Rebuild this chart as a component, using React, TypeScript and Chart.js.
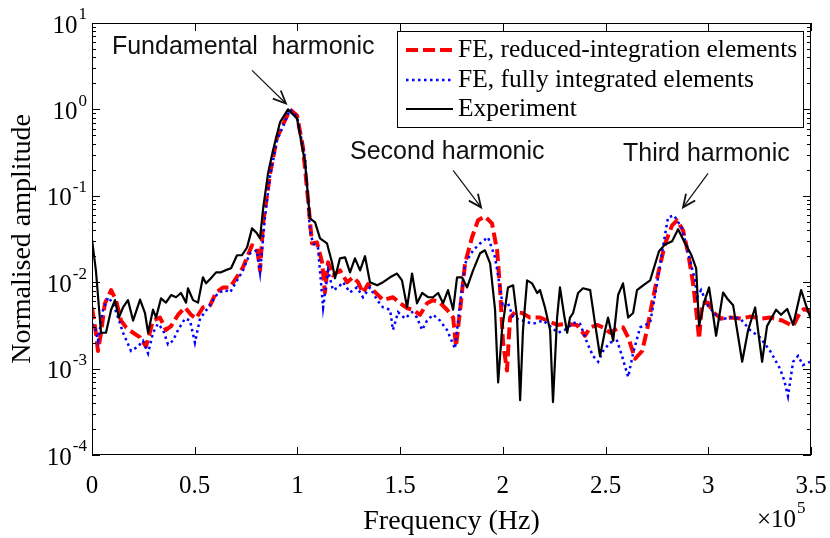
import React, { useEffect, useRef } from "react";
import { Chart, registerables } from "chart.js";

Chart.register(...registerables);

// Frequencies in units of 1e5 Hz
const reducedFreq = [0,0.019,0.029,0.044,0.063,0.093,0.117,0.141,0.166,0.2,0.234,0.263,0.297,0.331,0.36,0.385,0.419,0.453,0.482,0.506,0.54,0.575,0.604,0.638,0.672,0.701,0.735,0.779,0.803,0.818,0.833,0.867,0.901,0.964,0.998,1.027,1.052,1.071,1.095,1.12,1.134,1.149,1.173,1.207,1.242,1.271,1.295,1.319,1.344,1.368,1.417,1.465,1.5,1.534,1.563,1.597,1.631,1.66,1.694,1.728,1.758,1.772,1.792,1.816,1.85,1.879,1.913,1.947,1.972,1.986,2.001,2.02,2.035,2.059,2.093,2.132,2.181,2.215,2.264,2.313,2.361,2.4,2.425,2.459,2.488,2.522,2.556,2.585,2.61,2.644,2.678,2.702,2.726,2.756,2.79,2.824,2.848,2.877,2.902,2.926,2.945,2.955,2.97,2.999,3.023,3.062,3.106,3.165,3.203,3.262,3.301,3.359,3.413,3.447,3.466,3.5];
const reducedAmp = [0.0051,0.0026,0.0016,0.0026,0.0057,0.0081,0.0062,0.0036,0.003,0.0026,0.0023,0.0018,0.0036,0.0039,0.0028,0.0031,0.0042,0.0051,0.0042,0.0038,0.0051,0.0054,0.0076,0.0087,0.0087,0.0111,0.0149,0.0267,0.0253,0.0137,0.048,0.182,0.474,1.0,0.852,0.363,0.0886,0.0281,0.0289,0.017,0.0076,0.017,0.012,0.0137,0.01,0.0114,0.01,0.0075,0.0095,0.0081,0.0062,0.0067,0.0057,0.005,0.0048,0.0042,0.0057,0.0062,0.0058,0.0048,0.0039,0.0018,0.0048,0.0165,0.0331,0.052,0.0577,0.048,0.0234,0.0087,0.002,0.00095,0.0039,0.0045,0.0044,0.0039,0.0039,0.0036,0.0032,0.0033,0.0032,0.0024,0.003,0.0032,0.003,0.0026,0.0029,0.003,0.0023,0.0013,0.0016,0.0028,0.0057,0.0126,0.0281,0.0455,0.052,0.0399,0.0216,0.0097,0.0039,0.0022,0.0057,0.0058,0.0045,0.0038,0.0039,0.0038,0.004,0.0038,0.0039,0.0036,0.0031,0.0045,0.0049,0.0045];

const fullFreq = [0,0.015,0.029,0.054,0.078,0.102,0.127,0.151,0.19,0.224,0.248,0.273,0.297,0.321,0.346,0.37,0.394,0.419,0.453,0.477,0.501,0.526,0.55,0.579,0.613,0.648,0.672,0.701,0.735,0.769,0.803,0.818,0.842,0.867,0.901,0.964,0.998,1.037,1.061,1.076,1.1,1.125,1.149,1.173,1.198,1.222,1.256,1.29,1.319,1.353,1.388,1.417,1.451,1.465,1.49,1.524,1.558,1.582,1.607,1.631,1.66,1.694,1.728,1.767,1.792,1.816,1.855,1.889,1.928,1.962,1.986,2.001,2.025,2.05,2.093,2.147,2.196,2.244,2.269,2.313,2.342,2.376,2.41,2.439,2.464,2.488,2.522,2.556,2.58,2.61,2.634,2.668,2.717,2.751,2.775,2.804,2.833,2.872,2.911,2.936,2.945,2.965,2.999,3.057,3.106,3.155,3.203,3.252,3.301,3.349,3.369,3.388,3.413,3.437,3.461,3.495];
const fullAmp = [0.0033,0.003,0.0021,0.0048,0.0067,0.0057,0.0039,0.0026,0.0016,0.0018,0.0021,0.0015,0.0026,0.0033,0.0028,0.0019,0.0021,0.0028,0.0038,0.0036,0.002,0.0038,0.0045,0.0057,0.0075,0.0081,0.0076,0.01,0.0137,0.0216,0.0234,0.013,0.0561,0.172,0.438,1.0,0.83,0.278,0.0399,0.0281,0.0253,0.0051,0.0137,0.0081,0.0087,0.01,0.0076,0.0087,0.0067,0.0087,0.0062,0.0051,0.0048,0.0028,0.0045,0.0038,0.0045,0.0039,0.0028,0.0036,0.0042,0.0036,0.0028,0.0017,0.0057,0.0165,0.0234,0.0281,0.0331,0.0194,0.0087,0.0051,0.0057,0.0039,0.0036,0.0033,0.0036,0.0029,0.0026,0.0029,0.0034,0.0033,0.002,0.0014,0.0012,0.0016,0.002,0.0021,0.0014,0.0008,0.0015,0.003,0.0034,0.0097,0.0222,0.0561,0.0594,0.042,0.0179,0.0105,0.0067,0.0081,0.0053,0.0037,0.0039,0.0038,0.0028,0.0023,0.0016,0.001,0.00074,0.00048,0.0012,0.0014,0.0011,0.0012];

const expFreq = [0,0.019,0.044,0.068,0.093,0.112,0.131,0.151,0.175,0.2,0.234,0.258,0.273,0.297,0.312,0.336,0.36,0.385,0.409,0.433,0.458,0.467,0.492,0.516,0.54,0.555,0.579,0.604,0.628,0.648,0.677,0.706,0.73,0.755,0.779,0.803,0.818,0.833,0.857,0.881,0.915,0.954,0.998,1.037,1.061,1.086,1.11,1.144,1.168,1.183,1.207,1.232,1.256,1.28,1.305,1.329,1.353,1.388,1.417,1.451,1.485,1.509,1.534,1.558,1.582,1.607,1.636,1.66,1.685,1.709,1.733,1.758,1.777,1.801,1.826,1.855,1.889,1.913,1.938,1.962,1.977,1.996,2.025,2.05,2.069,2.084,2.098,2.118,2.142,2.167,2.181,2.205,2.23,2.244,2.264,2.278,2.298,2.313,2.327,2.342,2.366,2.39,2.425,2.449,2.473,2.498,2.512,2.537,2.561,2.585,2.61,2.634,2.653,2.683,2.717,2.76,2.79,2.824,2.853,2.882,2.916,2.941,2.955,2.979,3.004,3.038,3.072,3.096,3.121,3.165,3.194,3.228,3.262,3.286,3.33,3.354,3.384,3.413,3.452,3.476,3.5];
const expAmp = [0.031,0.0137,0.0026,0.0026,0.0048,0.0062,0.0039,0.0051,0.0062,0.0036,0.0063,0.0044,0.0026,0.0048,0.0039,0.0065,0.0058,0.0071,0.0067,0.0075,0.0058,0.0085,0.0062,0.0058,0.0114,0.0097,0.0111,0.013,0.013,0.0137,0.0145,0.0205,0.0205,0.0253,0.042,0.0368,0.0322,0.0717,0.182,0.335,0.707,1.0,0.787,0.243,0.0548,0.0493,0.0322,0.0281,0.017,0.0111,0.0189,0.0194,0.013,0.0189,0.0137,0.02,0.01,0.0092,0.01,0.0114,0.0126,0.0105,0.0051,0.0126,0.0057,0.0075,0.0067,0.0067,0.0075,0.0057,0.0081,0.0048,0.0114,0.0114,0.0087,0.0137,0.0216,0.0234,0.0165,0.0048,0.00069,0.0028,0.0087,0.0092,0.0039,0.00043,0.0028,0.0105,0.0097,0.0075,0.0081,0.0051,0.0028,0.00041,0.0039,0.0087,0.0042,0.0026,0.0039,0.0044,0.0075,0.0085,0.0081,0.0033,0.0014,0.0028,0.0039,0.0021,0.0071,0.0097,0.0039,0.0044,0.0081,0.0092,0.0105,0.0228,0.0274,0.0297,0.041,0.0297,0.0211,0.0145,0.0031,0.0058,0.0087,0.0024,0.0076,0.0063,0.0054,0.0012,0.0028,0.0051,0.0012,0.0031,0.0048,0.0042,0.0049,0.0032,0.0081,0.0054,0.0037];

const seriesLabels = ["FE, reduced-integration elements", "FE, fully integrated elements", "Experiment"];
const xTickValues = [0, 0.5, 1, 1.5, 2, 2.5, 3, 3.5];
const yDecades = [-4, -3, -2, -1, 0, 1];

// annotation texts and arrows, positioned in data units
const annotationTexts = ["Fundamental  harmonic", "Second harmonic", "Third harmonic"];
const annotationTextX = [0.097, 1.256, 2.585];
const annotationTextY = [5.2, 0.318, 0.301];
const arrowFromX = [0.779, 1.758, 2.999];
const arrowFromY = [2.83, 0.197, 0.182];
const arrowToX = [0.944, 1.894, 2.877];
const arrowToY = [1.17, 0.0734, 0.0734];

const SERIF = "'Liberation Serif', 'Times New Roman', serif";
const SANS = "'Liberation Sans', Arial, sans-serif";

const toPoints = (xs: number[], ys: number[]) => xs.map((x, i) => ({ x, y: ys[i] }));

const decorPlugin = {
  id: "decor",
  afterDraw(chart: any) {
    const { ctx, chartArea, scales } = chart;
    const { left, right, top, bottom } = chartArea;
    const xs = scales.x;
    const ys = scales.y;
    ctx.save();
    // frame
    ctx.strokeStyle = "#000";
    ctx.lineWidth = 1;
    ctx.setLineDash([]);
    ctx.strokeRect(Math.round(left) + 0.5, Math.round(top) + 0.5, Math.round(right - left) - 1, Math.round(bottom - top) - 1);
    // x ticks (inward, bottom and top)
    ctx.beginPath();
    xTickValues.forEach((v) => {
      const px = Math.round(xs.getPixelForValue(v)) + 0.5;
      ctx.moveTo(px, bottom);
      ctx.lineTo(px, bottom - 8);
      ctx.moveTo(px, top);
      ctx.lineTo(px, top + 8);
    });
    // y ticks (major + minor), both sides
    yDecades.forEach((k) => {
      const py = Math.round(ys.getPixelForValue(Math.pow(10, k))) + 0.5;
      ctx.moveTo(left, py);
      ctx.lineTo(left + 8, py);
      ctx.moveTo(right, py);
      ctx.lineTo(right - 8, py);
      if (k < 1) {
        for (let m = 2; m <= 9; m++) {
          const pm = Math.round(ys.getPixelForValue(m * Math.pow(10, k))) + 0.5;
          ctx.moveTo(left, pm);
          ctx.lineTo(left + 4, pm);
          ctx.moveTo(right, pm);
          ctx.lineTo(right - 4, pm);
        }
      }
    });
    ctx.stroke();

    // y tick labels 10^k
    ctx.fillStyle = "#000";
    ctx.textBaseline = "middle";
    yDecades.forEach((k) => {
      const py = ys.getPixelForValue(Math.pow(10, k));
      const exp = String(k);
      ctx.font = `17px ${SERIF}`;
      const ew = ctx.measureText(exp).width;
      const rightEdge = left - 5;
      ctx.textAlign = "left";
      ctx.fillText(exp, rightEdge - ew, py - 8);
      ctx.font = `25px ${SERIF}`;
      ctx.textAlign = "right";
      ctx.fillText("10", rightEdge - ew - 1, py + 3);
    });

    // x10^5 multiplier
    ctx.textAlign = "left";
    ctx.font = `25px ${SERIF}`;
    const mx = right - 54;
    const my = bottom + 65;
    ctx.fillText("\u00d710", mx, my);
    const mw = ctx.measureText("\u00d710").width;
    ctx.font = `17px ${SERIF}`;
    ctx.fillText("5", mx + mw + 1, my - 11);

    // annotations
    ctx.font = `25px ${SANS}`;
    ctx.fillStyle = "#111";
    ctx.textAlign = "left";
    annotationTexts.forEach((t, i) => {
      ctx.fillText(t, xs.getPixelForValue(annotationTextX[i]), ys.getPixelForValue(annotationTextY[i]));
      const x0 = xs.getPixelForValue(arrowFromX[i]);
      const y0 = ys.getPixelForValue(arrowFromY[i]);
      const x1 = xs.getPixelForValue(arrowToX[i]);
      const y1 = ys.getPixelForValue(arrowToY[i]);
      const ang = Math.atan2(y1 - y0, x1 - x0);
      ctx.strokeStyle = "#111";
      ctx.lineWidth = 1.2;
      ctx.beginPath();
      ctx.moveTo(x0, y0);
      ctx.lineTo(x1, y1);
      ctx.stroke();
      ctx.lineWidth = 1.8;
      ctx.beginPath();
      const hl = 14;
      const ha = 0.42;
      ctx.moveTo(x1 - hl * Math.cos(ang - ha), y1 - hl * Math.sin(ang - ha));
      ctx.lineTo(x1, y1);
      ctx.lineTo(x1 - hl * Math.cos(ang + ha), y1 - hl * Math.sin(ang + ha));
      ctx.stroke();
    });

    // legend
    const lw = 406;
    const lh = 96;
    const lx = right - 8 - lw;
    const ly = top + 8;
    ctx.fillStyle = "#fff";
    ctx.fillRect(lx, ly, lw, lh);
    ctx.strokeStyle = "#000";
    ctx.lineWidth = 1;
    ctx.strokeRect(Math.round(lx) + 0.5, Math.round(ly) + 0.5, lw, lh);
    const rowY = [ly + 19, ly + 49, ly + 78];
    chart.data.datasets.forEach((ds: any, i: number) => {
      const yy = rowY[i];
      ctx.strokeStyle = ds.borderColor;
      ctx.lineWidth = ds.borderWidth;
      ctx.setLineDash(ds.borderDash || []);
      ctx.beginPath();
      ctx.moveTo(lx + 9, yy);
      ctx.lineTo(lx + 56, yy);
      ctx.stroke();
      ctx.setLineDash([]);
      ctx.fillStyle = "#000";
      ctx.font = `25.5px ${SERIF}`;
      ctx.textAlign = "left";
      ctx.textBaseline = "middle";
      ctx.fillText(ds.label, lx + 61, yy);
    });
    ctx.restore();
  },
};

export default function App() {
  const ref = useRef<HTMLCanvasElement | null>(null);
  useEffect(() => {
    document.body.style.margin = "0";
    const canvas = ref.current;
    if (!canvas) return;
    const chart = new Chart(canvas, {
      type: "line",
      data: {
        datasets: [
          {
            label: seriesLabels[0],
            data: toPoints(reducedFreq, reducedAmp),
            borderColor: "#ff0000",
            borderWidth: 4,
            borderDash: [12, 5],
            borderJoinStyle: "round",
            pointRadius: 0,
            tension: 0,
            fill: false,
            order: 3,
          },
          {
            label: seriesLabels[1],
            data: toPoints(fullFreq, fullAmp),
            borderColor: "#0000ff",
            borderWidth: 2.5,
            borderDash: [2.5, 3.5],
            pointRadius: 0,
            tension: 0,
            fill: false,
            order: 2,
          },
          {
            label: seriesLabels[2],
            data: toPoints(expFreq, expAmp),
            borderColor: "#000000",
            borderWidth: 2.2,
            borderJoinStyle: "round",
            pointRadius: 0,
            tension: 0,
            fill: false,
            order: 1,
          },
        ],
      },
      options: {
        responsive: false,
        animation: false,
        events: [],
        layout: { padding: { top: 23, right: 19, left: 0, bottom: 0 } },
        plugins: { legend: { display: false }, tooltip: { enabled: false } },
        scales: {
          x: {
            type: "linear",
            min: 0,
            max: 3.5,
            afterFit: (s: any) => { s.height = 83; s.paddingLeft = 0; s.paddingRight = 0; },
            grid: { display: false, drawTicks: false },
            border: { display: false },
            ticks: {
              stepSize: 0.5,
              color: "#000",
              font: { family: SERIF, size: 25 },
              padding: 16,
              maxRotation: 0,
              autoSkip: false,
              callback: (v: any) => String(v),
            },
            title: {
              display: true,
              text: "Frequency (Hz)",
              color: "#000",
              font: { family: SERIF, size: 28 },
              padding: { top: 0, bottom: 0 },
            },
          },
          y: {
            type: "logarithmic",
            min: 1e-4,
            max: 10,
            afterFit: (s: any) => { s.width = 92; s.paddingTop = 0; s.paddingBottom = 0; },
            grid: { display: false, drawTicks: false },
            border: { display: false },
            ticks: { display: false },
            title: {
              display: true,
              text: "Normalised amplitude",
              color: "#000",
              font: { family: SERIF, size: 28 },
              padding: { top: 6, bottom: 0 },
            },
          },
        },
      },
      plugins: [decorPlugin],
    } as any);
    return () => chart.destroy();
  }, []);
  return <canvas ref={ref} width={830} height={538} style={{ display: "block" }} />;
}
